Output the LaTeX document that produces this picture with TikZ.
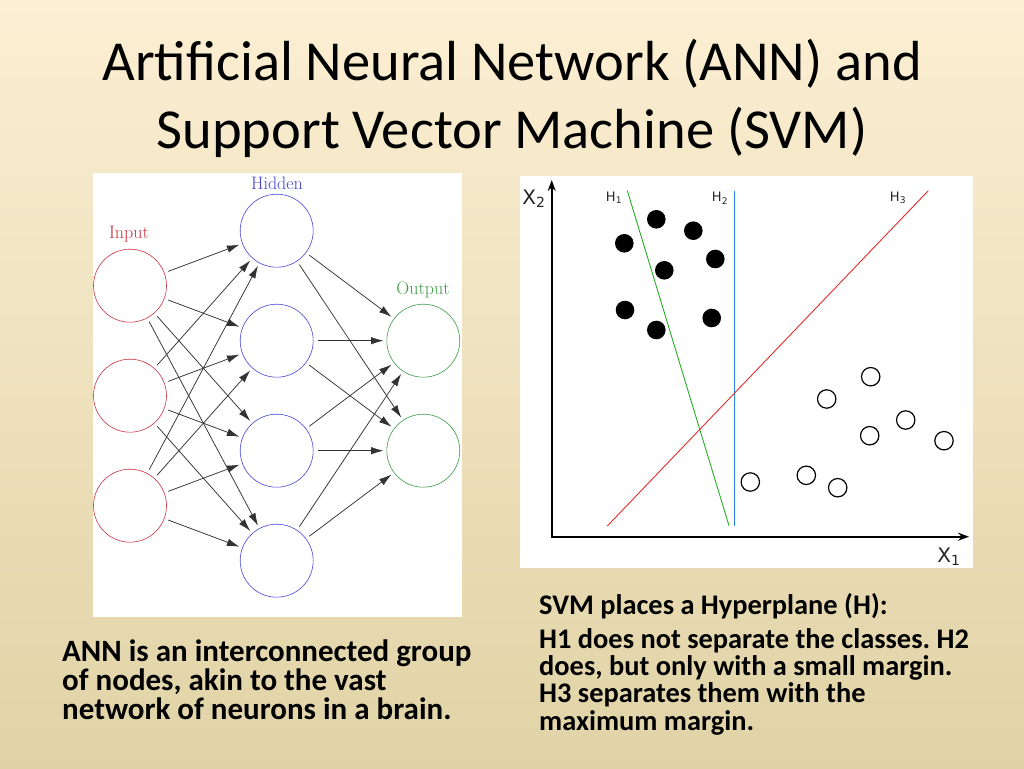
\documentclass[tikz,border=0pt]{standalone}
\usepackage{fontspec}
\setmainfont{Carlito}
\newfontfamily\netfont{Latin Modern Roman}
\newfontfamily\plotfont{DejaVu Sans}
\usetikzlibrary{arrows.meta}
\frenchspacing

\definecolor{bgtop}{RGB}{252,239,211}
\definecolor{bgbottom}{RGB}{224,211,166}
\definecolor{inred}{RGB}{200,50,65}
\definecolor{hidblue}{RGB}{70,70,215}
\definecolor{outgreen}{RGB}{60,155,70}
\definecolor{hgreen}{RGB}{40,175,40}
\definecolor{hblue}{RGB}{40,135,220}
\definecolor{hred}{RGB}{230,45,45}

\tikzset{
  neuron/.style={circle,draw,minimum size=73pt,inner sep=0pt,line width=0.6pt},
  link/.style={-{Latex[length=12.5pt,width=7.5pt]},black!80,line width=0.75pt,shorten <=4pt,shorten >=3pt},
  layername/.style={font=\netfont\fontsize{18}{18}\selectfont,inner sep=0pt},
  axisline/.style={{Stealth[length=11pt,width=8pt]}-{Stealth[length=11pt,width=8pt]},line width=1.6pt},
  hplane/.style={line width=0.9pt},
  axislabel/.style={font=\plotfont\fontsize{20}{20}\selectfont,text=black!85,inner sep=0pt},
  hlabel/.style={font=\plotfont\fontsize{13}{13}\selectfont,text=black!85,inner sep=0pt},
  titleline/.style={font=\fontsize{56.5}{56.5}\selectfont,inner sep=0pt,anchor=base},
  slidetext/.style={font=\bfseries\fontsize{31}{29}\selectfont,align=left,inner sep=0pt,anchor=base west},
}

\begin{document}
\begin{tikzpicture}[x=1pt,y=-1pt]
% Background
\shade[top color=bgtop,bottom color=bgbottom] (0,0) rectangle (1024,768);
\useasboundingbox (0,0) rectangle (1024,768);

% Title
\node[titleline] (title1) at (512,80) {Artificial Neural Network (ANN) and};
\node[titleline] (title2) at (512,148) {Support Vector Machine (SVM)};

% Panels
\fill[white] (93,173) rectangle (462,617);
\fill[white] (520,176) rectangle (973,568);

% Neural network
\foreach \i/\y in {1/285.7,2/395.7,3/505.7}
  \node[neuron,draw=inred] (in\i) at (130,\y) {};
\foreach \i/\y in {1/230.7,2/340.7,3/450.7,4/560.7}
  \node[neuron,draw=hidblue] (hid\i) at (276.7,\y) {};
\foreach \i/\y in {1/340.7,2/450.7}
  \node[neuron,draw=outgreen] (out\i) at (423.3,\y) {};

\foreach \i in {1,2,3}
  \foreach \j in {1,...,4}
    \draw[link] (in\i) -- (hid\j);
\foreach \j in {1,...,4}
  \foreach \k in {1,2}
    \draw[link] (hid\j) -- (out\k);

\node[layername,text=inred] (inlabel) at (129,234) {Input};
\node[layername,text=hidblue] (hidlabel) at (277,183) {Hidden};
\node[layername,text=outgreen] (outlabel) at (423,290) {Output};

% SVM plot
\coordinate (ytip) at (551.7,180);
\coordinate (xtip) at (969,536.7);
\draw[axisline] (ytip) |- (xtip);

\node[axislabel] (x2label) at (534,199) {X\textsubscript{2}};
\node[axislabel] (x1label) at (949,557) {X\textsubscript{1}};
\node[hlabel] (h1label) at (614,198) {H\textsubscript{1}};
\node[hlabel] (h2label) at (720,198) {H\textsubscript{2}};
\node[hlabel] (h3label) at (898,198) {H\textsubscript{3}};

\coordinate (h1top) at (627.3,190.7);
\coordinate (h1bot) at (729,525.7);
\coordinate (h2top) at (734,190.7);
\coordinate (h2bot) at (734,525.7);
\coordinate (h3top) at (928.3,190.7);
\coordinate (h3bot) at (607.3,526);
\draw[hplane,hgreen] (h1top) -- (h1bot);
\draw[hplane,hblue] (h2top) -- (h2bot);
\draw[hplane,hred] (h3bot) -- (h3top);

% Class points
\foreach \x/\y in {624.3/243.3,656.3/219.3,693.3/230.7,715.3/259,664.3/270.3,625/310,656.3/330,711.7/318}
  \fill (\x,\y) circle (9.3pt);
\foreach \x/\y in {870.7/376.7,826.7/399,905.7/420,869.7/435.7,944/440.7,750.3/482,806.3/475.3,837.7/487.7}
  \draw[line width=1.2pt,fill=white] (\x,\y) circle (9.2pt);

% Captions (base = last line)
\node[slidetext] (anntext) at (62,719) {ANN is an interconnected group\\of nodes, akin to the vast\\network of neurons in a brain.};
\node[slidetext,font=\bfseries\fontsize{28.4}{27.3}\selectfont] (svmhead) at (539,614) {SVM places a Hyperplane (H):};
\node[slidetext,font=\bfseries\fontsize{28.4}{27.3}\selectfont] (svmtext) at (539,730) {H1 does not separate the classes. H2\\does, but only with a small margin.\\H3 separates them with the\\maximum margin.};
\end{tikzpicture}
\end{document}
